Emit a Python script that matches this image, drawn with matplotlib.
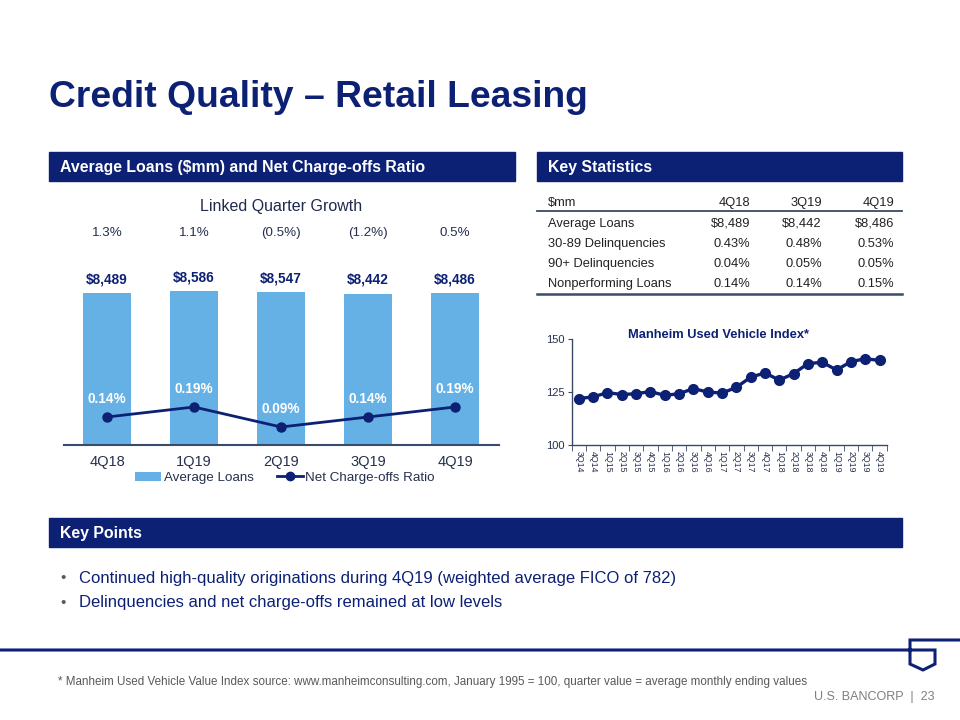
import numpy as np
import matplotlib.pyplot as plt
from matplotlib import transforms
from matplotlib.lines import Line2D
from matplotlib.patches import Rectangle

plt.rcParams['font.family'] = ['Liberation Sans', 'DejaVu Sans']

NAVY = '#0C2074'
LBLUE = '#65B1E6'
GRAY = '#595959'
TXT = '#222222'

# data
quarters = ['4Q18', '1Q19', '2Q19', '3Q19', '4Q19']
avg_loans = [8489, 8586, 8547, 8442, 8486]
nco_ratio = [0.14, 0.19, 0.09, 0.14, 0.19]
lq_growth = ['1.3%', '1.1%', '(0.5%)', '(1.2%)', '0.5%']

stat_cols = ['4Q18', '3Q19', '4Q19']
stat_rows = ['Average Loans', '30-89 Delinquencies', '90+ Delinquencies', 'Nonperforming Loans']
stat_vals = [['$8,489', '$8,442', '$8,486'],
             ['0.43%', '0.48%', '0.53%'],
             ['0.04%', '0.05%', '0.05%'],
             ['0.14%', '0.14%', '0.15%']]

mh_quarters = ['3Q14', '4Q14', '1Q15', '2Q15', '3Q15', '4Q15', '1Q16', '2Q16', '3Q16', '4Q16', '1Q17',
               '2Q17', '3Q17', '4Q17', '1Q18', '2Q18', '3Q18', '4Q18', '1Q19', '2Q19', '3Q19', '4Q19']
mh_index = [121.9, 122.7, 124.7, 123.8, 124.2, 125.2, 123.4, 124.2, 126.6, 125.0, 124.5,
            127.2, 132.0, 134.0, 130.6, 133.7, 138.4, 139.0, 135.4, 139.3, 140.7, 139.9]

key_points = ['Continued high-quality originations during 4Q19 (weighted average FICO of 782)',
              'Delinquencies and net charge-offs remained at low levels']


def fx(x):
    return x / 960.0


def fy(y):
    return 1 - y / 720.0


def box(x0, y0, x1, y1):
    # axes rect from pixel corners (top-left origin)
    return [fx(x0), fy(y1), fx(x1) - fx(x0), fy(y0) - fy(y1)]


fig = plt.figure(figsize=(9.6, 7.2), dpi=100)

# title
fig.text(fx(49), fy(107), 'Credit Quality \u2013 Retail Leasing', fontsize=26.8, fontweight='bold',
         color=NAVY, va='baseline')

# header bars
for x0, x1, y0, y1, label in [(49, 515, 152, 181, 'Average Loans ($mm) and Net Charge-offs Ratio'),
                              (537, 902, 152, 181, 'Key Statistics'),
                              (49, 902, 518, 547, 'Key Points')]:
    fig.patches.append(Rectangle((fx(x0), fy(y1)), fx(x1) - fx(x0), fy(y0) - fy(y1),
                                 transform=fig.transFigure, color=NAVY, zorder=1))
    fig.text(fx(x0 + 11), fy((y0 + y1) / 2 + 1), label, fontsize=11.4, fontweight='bold',
             color='white', va='center')

# bar chart
ax = fig.add_axes(box(63.5, 190, 498.5, 445))
x = np.arange(len(quarters))
bars = ax.bar(x, avg_loans, width=0.55, color=LBLUE, label='Average Loans', zorder=2)
ax.set_xlim(-0.5, 4.5)
ax.set_ylim(0, 8489 * 255 / 152.0)
ax.set_yticks([])
for s in ['top', 'right', 'left']:
    ax.spines[s].set_visible(False)
ax.spines['bottom'].set_color('#3A4A6B')
ax.spines['bottom'].set_linewidth(1.5)
ax.set_xticks(x)
ax.set_xticklabels(quarters, fontsize=10.5, color='#26304D')
ax.tick_params(axis='x', length=0, pad=7)
for xi, v in zip(x, avg_loans):
    ax.annotate('${:,}'.format(v), (xi, v), xytext=(0, 5), textcoords='offset points',
                ha='center', va='bottom', fontsize=9.8, fontweight='bold', color=NAVY)

ax2 = ax.twinx()
ax2.set_ylim(0, 255 / 200.0)
ax2.axis('off')
ax2.plot(x, nco_ratio, color=NAVY, lw=2, marker='o', ms=6.5, label='Net Charge-offs Ratio', zorder=3)
for xi, v in zip(x, nco_ratio):
    ax2.annotate('{:.2f}%'.format(v), (xi, v), xytext=(0, 8), textcoords='offset points',
                 ha='center', va='bottom', fontsize=9.8, fontweight='bold', color='white')

tr = transforms.blended_transform_factory(ax.transData, fig.transFigure)
ax.text(2, fy(206), 'Linked Quarter Growth', transform=tr, ha='center', va='center',
        fontsize=11.5, color='#1F2A4D')
for xi, g in zip(x, lq_growth):
    ax.text(xi, fy(233), g, transform=tr, ha='center', va='center', fontsize=9.6, color='#26304D')

fig.legend(handles=[bars, Line2D([], [], color=NAVY, lw=2, marker='o', ms=6)],
           labels=['Average Loans', 'Net Charge-offs Ratio'], ncol=2, frameon=False,
           loc='center', bbox_to_anchor=(fx(285), fy(478)), fontsize=9.6, handlelength=1.95,
           columnspacing=1.7, handletextpad=0.2, labelcolor='#26304D')

# key statistics table
col_x = [750, 822, 894]
fsz = 9.3
fig.text(fx(548), fy(203), '$mm', fontsize=fsz, color=TXT, va='center')
for cx, c in zip(col_x, stat_cols):
    fig.text(fx(cx), fy(203), c, fontsize=fsz, color=TXT, va='center', ha='right')
fig.add_artist(Line2D([fx(537), fx(902)], [fy(211.5), fy(211.5)], color='#3A4A6B', lw=1.3))
for i, (rname, vals) in enumerate(zip(stat_rows, stat_vals)):
    yy = 224 + 20 * i
    fig.text(fx(548), fy(yy), rname, fontsize=fsz, color=TXT, va='center')
    for cx, v in zip(col_x, vals):
        fig.text(fx(cx), fy(yy), v, fontsize=fsz, color=TXT, va='center', ha='right')
fig.add_artist(Line2D([fx(537), fx(902)], [fy(293.5), fy(293.5)], color='#3A4A6B', lw=1.8))

# manheim index
ax3 = fig.add_axes(box(571.7, 339, 886.7, 445))
xm = np.arange(len(mh_quarters))
ax3.plot(xm, mh_index, color=NAVY, lw=2.4, marker='o', ms=7, clip_on=False)
ax3.set_xlim(-0.5, len(mh_quarters) - 0.5)
ax3.set_ylim(100, 150)
ax3.set_yticks([100, 125, 150])
ax3.tick_params(axis='y', labelsize=8, labelcolor='#26304D', color='#3A4A6B', length=3, pad=2)
ax3.set_xticks(xm)
ax3.set_xticklabels(mh_quarters, rotation=-90, fontsize=6.3, color='#26304D')
ax3.set_xticks(np.arange(-0.5, len(mh_quarters), 1), minor=True)
ax3.tick_params(axis='x', which='major', length=0, pad=4)
ax3.tick_params(axis='x', which='minor', length=4, color='#3A4A6B')
for s in ['top', 'right']:
    ax3.spines[s].set_visible(False)
for s in ['left', 'bottom']:
    ax3.spines[s].set_color('#3A4A6B')
    ax3.spines[s].set_linewidth(1)
fig.text(fx(719), fy(335), 'Manheim Used Vehicle Index*', fontsize=9.3, fontweight='bold',
         color=NAVY, ha='center', va='center')

# key points
for i, t in enumerate(key_points):
    yy = 578 + 25 * i
    fig.text(fx(60), fy(yy), '\u2022', fontsize=11, color=GRAY, va='center')
    fig.text(fx(79), fy(yy), t, fontsize=12, color=NAVY, va='center')

# footer line and logo
fig.add_artist(Line2D([0, fx(935), fx(935), fx(923), fx(910), fx(910), 1],
                      [fy(650), fy(650), fy(664), fy(670), fy(664), fy(640), fy(640)],
                      color=NAVY, lw=2.2, solid_joinstyle='miter'))
fig.text(fx(58), fy(682), '* Manheim Used Vehicle Value Index source: www.manheimconsulting.com, '
         'January 1995 = 100, quarter value = average monthly ending values',
         fontsize=8.35, color=GRAY, va='center')
fig.text(fx(935), fy(697), 'U.S. BANCORP  |  23', fontsize=9, color='#7F7F7F', va='center', ha='right')

fig.savefig('out.png', dpi=100)
